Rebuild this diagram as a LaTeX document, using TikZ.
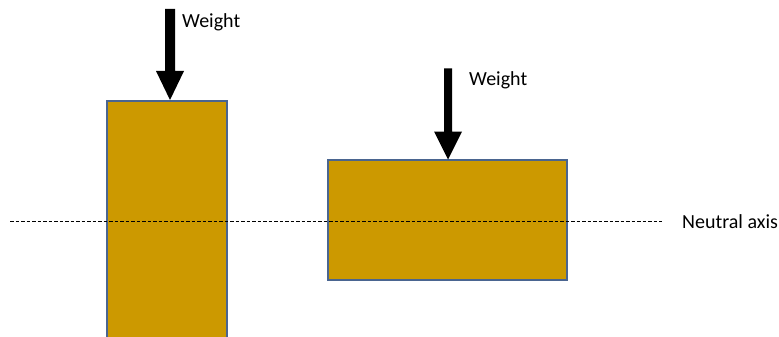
\documentclass[tikz,border=0pt]{standalone}
\usepackage{fontspec}
\setmainfont{Carlito}
\definecolor{barfill}{HTML}{CC9900}
\definecolor{barline}{HTML}{4A6590}
\begin{document}
\begin{tikzpicture}[x=1pt,y=-1pt,
  bar/.style={draw=barline,line width=1.5pt,fill=barfill,inner sep=0pt},
  lbl/.style={font=\fontsize{20}{24}\selectfont,inner sep=0pt,anchor=base west},
  weightarrow/.style={fill=black}]
\useasboundingbox (0,0) rectangle (779,337);
% bars
\node[bar,minimum width=120pt,minimum height=244pt] (L) at (167,223) {};
\node[bar,minimum width=239pt,minimum height=120pt] (R) at (447.5,220) {};
% neutral axis
\node[lbl] (NA) at (682,228) {Neutral axis};
\coordinate (axL) at (10,221);
\draw[dash pattern=on 3.5pt off 2pt,line width=0.6pt] (axL) -- (axL -| 662,0);
% arrows
\coordinate (tipL) at (170,100);
\coordinate (tipR) at (448,159.5);
\fill[weightarrow] (tipL) -- ++(-14,-29) -- ++(9,0) -- ++(0,-62) -- ++(10,0) -- ++(0,62) -- ++(9,0) -- cycle;
\fill[weightarrow] (tipR) -- ++(-14,-28) -- ++(10,0) -- ++(0,-63) -- ++(8,0) -- ++(0,63) -- ++(10,0) -- cycle;
\node[lbl] (WL) at (182,28) {Weight};
\node[lbl] (WR) at (469,85) {Weight};
\end{tikzpicture}
\end{document}
